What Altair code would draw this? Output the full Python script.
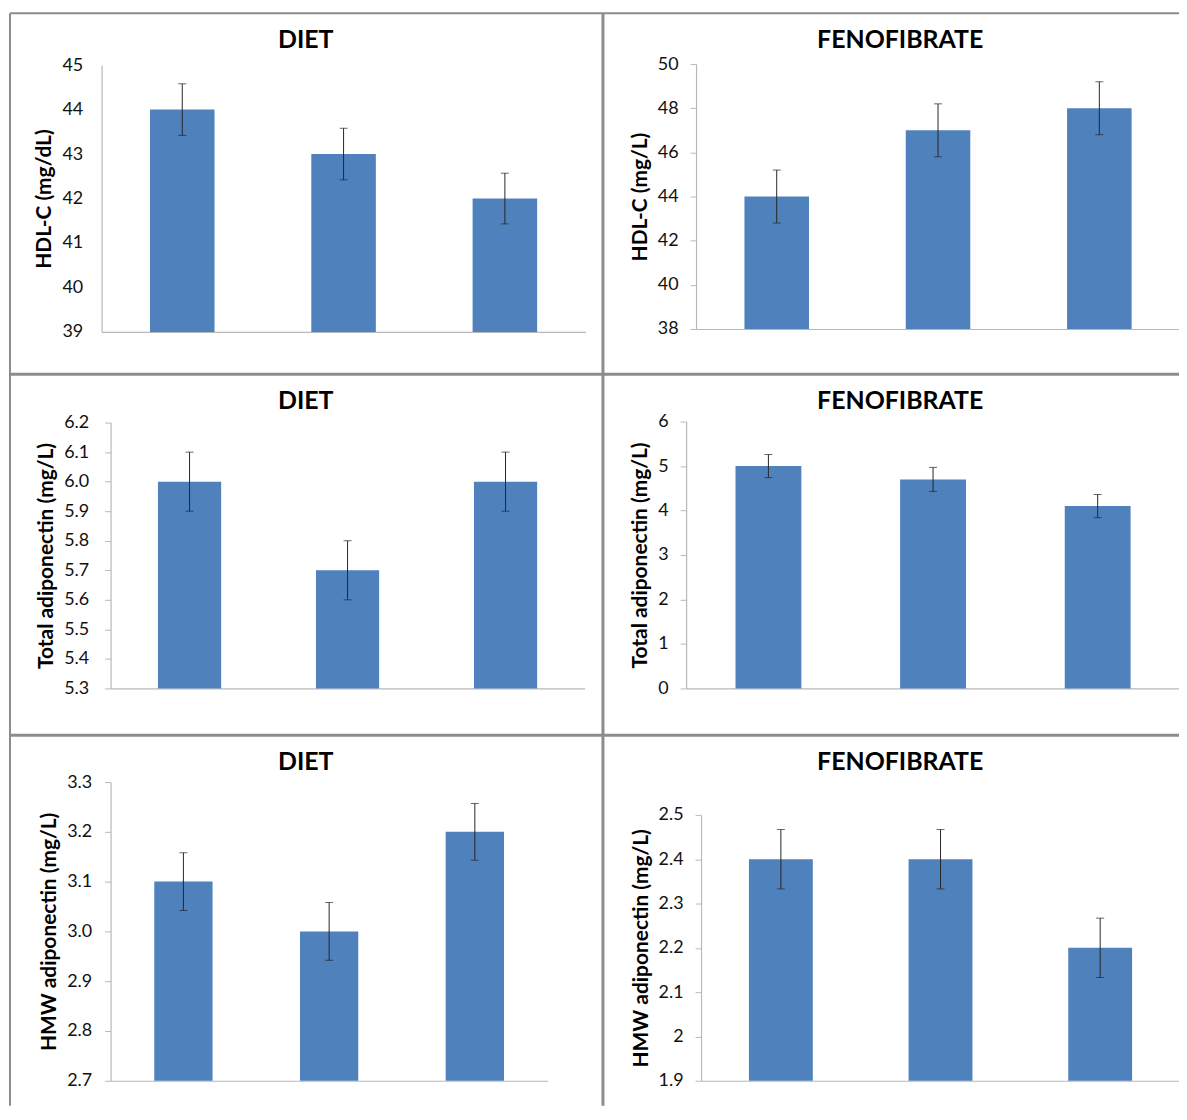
import altair as alt
import pandas as pd

# ---------------- data ----------------
groups = ["A", "B", "C"]

hdl_diet_mean = [44.0, 43.0, 42.0]
hdl_diet_err = [0.58, 0.58, 0.57]
hdl_feno_mean = [44.0, 47.0, 48.0]
hdl_feno_err = [1.2, 1.2, 1.2]

tot_diet_mean = [6.0, 5.7, 6.0]
tot_diet_err = [0.1, 0.1, 0.1]
tot_feno_mean = [5.0, 4.7, 4.1]
tot_feno_err = [0.26, 0.27, 0.26]

hmw_diet_mean = [3.1, 3.0, 3.2]
hmw_diet_err = [0.058, 0.058, 0.057]
hmw_feno_mean = [2.4, 2.4, 2.2]
hmw_feno_err = [0.067, 0.067, 0.067]

ticks_hdl_diet = [39, 40, 41, 42, 43, 44, 45]
ticks_hdl_feno = [38, 40, 42, 44, 46, 48, 50]
ticks_tot_diet = [5.3, 5.4, 5.5, 5.6, 5.7, 5.8, 5.9, 6.0, 6.1, 6.2]
ticks_tot_feno = [0, 1, 2, 3, 4, 5, 6]
ticks_hmw_diet = [2.7, 2.8, 2.9, 3.0, 3.1, 3.2, 3.3]
ticks_hmw_feno = [1.9, 2.0, 2.1, 2.2, 2.3, 2.4, 2.5]

panel_titles = ["DIET", "FENOFIBRATE"]
y_titles = ["HDL-C (mg/dL)", "HDL-C (mg/L)", "Total adiponectin (mg/L)",
            "Total adiponectin (mg/L)", "HMW adiponectin (mg/L)", "HMW adiponectin (mg/L)"]

# ---------------- style / layout ----------------
W, H = 1176, 1100
FONT = "Lato"
BAR = "#4F81BD"
AXIS_GREY = "#b8b8b8"
FRAME = "#8c8c8c"
ERR = "#262626"


def panel(means, errs, ticks, fmt, ylabel, xr, yr, label_pad, show_ticks=True):
    df = pd.DataFrame({"group": groups, "mean": means, "err": errs})
    df["lo"] = df["mean"] - df["err"]
    df["hi"] = df["mean"] + df["err"]
    xs = alt.Scale(domain=groups, range=xr, paddingInner=0.6, paddingOuter=0.3)
    ys = alt.Scale(domain=[ticks[0], ticks[-1]], range=yr, nice=False, zero=False)
    xax = alt.Axis(orient="bottom", offset=yr[0] - H, labels=False, ticks=False,
                   title=None, domainColor=AXIS_GREY, domainWidth=1.2, grid=False)
    yax = alt.Axis(orient="left", offset=-xr[0], values=ticks, format=fmt, title=ylabel,
                   tickSize=6, tickColor=AXIS_GREY, tickOpacity=1 if show_ticks else 0,
                   domainColor=AXIS_GREY, domainWidth=1.2, labelPadding=label_pad,
                   titlePadding=7, grid=False, labelOverlap=False)

    def X():
        return alt.X("group:N", scale=xs, axis=xax)

    base = alt.Chart(df)
    bars = base.mark_bar(color=BAR).encode(
        x=X(), y=alt.Y("mean:Q", scale=ys, axis=yax), y2=alt.datum(ticks[0])
    )
    rule = base.mark_rule(color=ERR, strokeWidth=1).encode(
        x=X(), y=alt.Y("lo:Q", scale=ys, axis=yax), y2="hi:Q"
    )
    caps = base.transform_fold(["lo", "hi"], as_=["kind", "value"]).mark_tick(
        color=ERR, orient="horizontal", size=8, thickness=1
    ).encode(x=X(), y=alt.Y("value:Q", scale=ys, axis=yax))
    return alt.layer(bars, rule, caps)


p1 = panel(hdl_diet_mean, hdl_diet_err, ticks_hdl_diet, "d", y_titles[0],
           [94, 580], [323, 55], 13, show_ticks=False)
p2 = panel(hdl_feno_mean, hdl_feno_err, ticks_hdl_feno, "d", y_titles[1],
           [691, 1177], [320, 54], 12)
p3 = panel(tot_diet_mean, tot_diet_err, ticks_tot_diet, ".1f", y_titles[2],
           [103, 579], [681, 414], 16)
p4 = panel(tot_feno_mean, tot_feno_err, ticks_tot_feno, "d", y_titles[3],
           [681, 1177], [681, 413], 12)
p5 = panel(hmw_diet_mean, hmw_diet_err, ticks_hmw_diet, ".1f", y_titles[4],
           [103, 542], [1075, 775], 13)
p6 = panel(hmw_feno_mean, hmw_feno_err, ticks_hmw_feno, "~g", y_titles[5],
           [696, 1177], [1075, 808], 12)

one = pd.DataFrame({"k": [0]})


def hline(y, x1, x2, w):
    return alt.Chart(one).mark_rule(color=FRAME, strokeWidth=w).encode(
        x=alt.value(x1), x2=alt.value(x2), y=alt.value(y))


def vline(x, y1, y2, w):
    return alt.Chart(one).mark_rule(color=FRAME, strokeWidth=w).encode(
        x=alt.value(x), y=alt.value(y1), y2=alt.value(y2))


frame = [
    hline(3, 2, W, 2), hline(365.5, 2, W, 3), hline(728, 2, W, 3),
    vline(2, 3, H, 2), vline(597.5, 3, H, 3),
]


def title(text, x, y):
    return alt.Chart(one).mark_text(
        font=FONT, fontSize=25, fontWeight="bold", color="#000000",
        align="center", baseline="alphabetic"
    ).encode(x=alt.value(x), y=alt.value(y), text=alt.value(text))


titles = []
for yb in [38, 400, 763]:
    titles.append(title(panel_titles[0], 299, yb))
    titles.append(title(panel_titles[1], 896, yb))

chart = alt.layer(*frame, *titles, p1, p2, p3, p4, p5, p6).resolve_scale(
    x="independent", y="independent"
).properties(
    width=W, height=H, autosize=alt.AutoSizeParams(type="none"), padding=0
).configure_view(stroke=None).configure_axis(
    labelFont=FONT, labelFontSize=18, labelColor="#111111",
    titleFont=FONT, titleFontSize=21, titleFontWeight="bold", titleColor="#000000",
)

chart.save("out.html", embed_options={"renderer": "svg", "actions": False})
